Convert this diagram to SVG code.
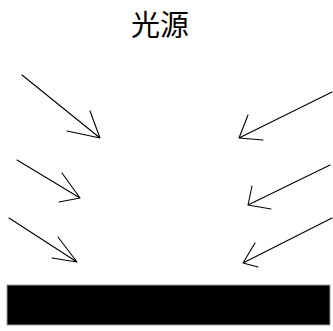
<svg xmlns="http://www.w3.org/2000/svg" width="333" height="331" viewBox="0 0 333 331">
<style>
.ln{stroke:#000;stroke-width:1.1;fill:none;stroke-linecap:round;stroke-linejoin:round}
.t{font-family:"Liberation Sans","Noto Sans CJK SC",sans-serif;font-size:29px;fill:#000}
</style>
<rect width="333" height="331" fill="#fff"/>
<g id="label"><text class="t" x="160" y="36" text-anchor="middle">光源</text></g>
<g id="surface"><rect x="7" y="285" width="323" height="40" fill="#000" stroke="#999" stroke-width="1"/></g>
<g id="connectors">
<path class="ln" d="M22,75 L100,138 M90,111 L100,138 L67,131"/>
<path class="ln" d="M332,92 L239,138 M248,115 L239,138 L263,140"/>
<path class="ln" d="M17,160 L80,198 M62,173 L80,198 L59,202"/>
<path class="ln" d="M330,165 L248,205 M252,186 L248,205 L271,209"/>
<path class="ln" d="M9,218 L77,262 M58,237 L77,262 L52,258"/>
<path class="ln" d="M332,218 L243,263 M255,243 L243,263 L258,267"/>
</g>
</svg>
